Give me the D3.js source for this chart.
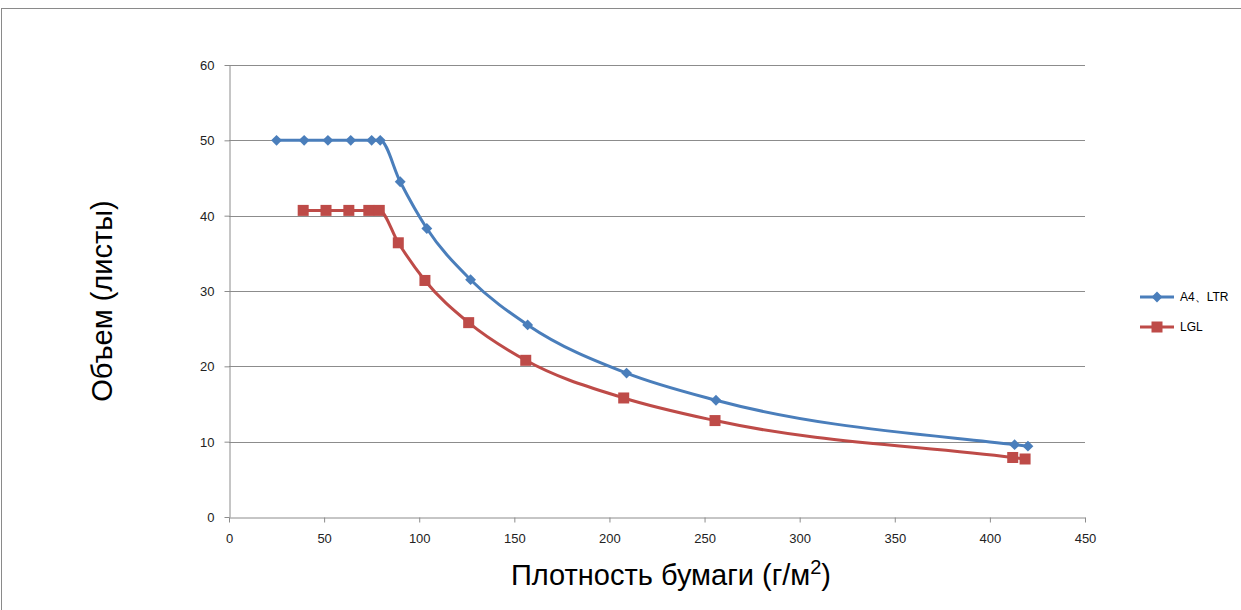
<!doctype html>
<html lang="ru">
<head>
  <meta charset="utf-8">
  <title>Объем листов</title>
  <style>
    body { margin: 0; background: #fff; }
    svg { display: block; font-family: "Liberation Sans", Arial, sans-serif; }
    .grid line { stroke: #8c8c8c; stroke-width: 1; }
    .axis path, .axis line { stroke: #8c8c8c; }
    .axis text { font-size: 13px; fill: #222; }
  </style>
</head>
<body>
  <div id="chart"></div>
  <script src="https://cdn.jsdelivr.net/npm/d3@7"></script>
  <script>
// readings
var a4X = [25, 39.5, 52, 64, 75, 79.5, 90, 104, 127, 157, 209, 256, 413, 420];
var a4Y = [50, 50, 50, 50, 50, 50, 44.5, 38.3, 31.5, 25.5, 19.1, 15.5, 9.6, 9.4];
var lglX = [39, 51, 63, 73.5, 79, 89, 103, 126, 156, 207.5, 255.5, 412, 418.5];
var lglY = [40.7, 40.7, 40.7, 40.7, 40.7, 36.4, 31.4, 25.8, 20.8, 15.8, 12.8, 7.9, 7.7];
var xTicks = [0, 50, 100, 150, 200, 250, 300, 350, 400, 450];
var yTicks = [0, 10, 20, 30, 40, 50, 60];
var seriesNames = ["A4、LTR", "LGL"];

(function() {
  var width = 1241, height = 610;
  var left = 229, right = 1085, top = 65, bottom = 517;

  var svg = d3.select("#chart").append("svg")
      .attr("width", width)
      .attr("height", height);

  // outer chart frame (runs off the right/bottom edge)
  svg.append("rect")
      .attr("x", 1.5).attr("y", 8.5)
      .attr("width", 1400).attr("height", 800)
      .attr("fill", "none")
      .attr("stroke", "#8a8a8a");

  var x = d3.scaleLinear().domain([0, 450]).range([left, right]);
  var y = d3.scaleLinear().domain([0, 60]).range([bottom, top]);

  // horizontal gridlines
  svg.append("g").attr("class", "grid")
    .selectAll("line").data(yTicks.filter(function(d) { return d > 0; }))
    .enter().append("line")
      .attr("x1", left).attr("x2", right)
      .attr("y1", function(d) { return Math.round(y(d)) + 0.5; })
      .attr("y2", function(d) { return Math.round(y(d)) + 0.5; });

  var yAxis = svg.append("g").attr("class", "axis")
      .attr("transform", "translate(" + (left + 0.5) + ",0)")
      .call(d3.axisLeft(y).tickValues(yTicks).tickSize(5).tickSizeOuter(0).tickPadding(10));
  yAxis.selectAll("text").attr("dy", "0.35em");

  var xAxis = svg.append("g").attr("class", "axis")
      .attr("transform", "translate(0," + (bottom + 0.5) + ")")
      .call(d3.axisBottom(x).tickValues(xTicks).tickSize(5).tickSizeOuter(0).tickPadding(11));

  // axis titles
  svg.append("text")
      .attr("transform", "translate(112,301) rotate(-90)")
      .attr("text-anchor", "middle")
      .style("font-size", "29px")
      .text("Объем (листы)");

  var xt = svg.append("text")
      .attr("x", 671).attr("y", 585)
      .attr("text-anchor", "middle")
      .style("font-size", "29px");
  xt.append("tspan").text("Плотность бумаги (г/м");
  xt.append("tspan").attr("dy", -11).style("font-size", "20px").text("2");
  xt.append("tspan").attr("dy", 11).text(")");

  var blue = "#4a7ebb", red = "#be4b48";
  var line = d3.line()
      .x(function(d) { return x(d[0]); })
      .y(function(d) { return y(d[1]); })
      .curve(d3.curveMonotoneX);

  var a4 = d3.zip(a4X, a4Y);
  var lgl = d3.zip(lglX, lglY);

  var diamond = d3.symbol().type(d3.symbolDiamond2).size(75);

  svg.append("path").datum(lgl)
      .attr("d", line).attr("fill", "none")
      .attr("stroke", red).attr("stroke-width", 3);
  svg.append("g").selectAll("rect").data(lgl)
    .enter().append("rect")
      .attr("x", function(d) { return x(d[0]) - 5.5; })
      .attr("y", function(d) { return y(d[1]) - 5.5; })
      .attr("width", 11).attr("height", 11)
      .attr("fill", red);

  svg.append("path").datum(a4)
      .attr("d", line).attr("fill", "none")
      .attr("stroke", blue).attr("stroke-width", 3);
  svg.append("g").selectAll("path").data(a4)
    .enter().append("path")
      .attr("d", diamond)
      .attr("transform", function(d) { return "translate(" + x(d[0]) + "," + y(d[1]) + ")"; })
      .attr("fill", blue);

  // legend
  var legend = svg.append("g").attr("transform", "translate(1140,297)");
  legend.append("line").attr("x1", 0).attr("x2", 34).attr("y1", 0).attr("y2", 0)
      .attr("stroke", blue).attr("stroke-width", 3);
  legend.append("path").attr("d", diamond).attr("transform", "translate(17,0)").attr("fill", blue);
  legend.append("text").attr("x", 40).attr("y", 0).attr("dy", "0.35em")
      .style("font-size", "12px").text(seriesNames[0]);

  legend.append("line").attr("x1", 0).attr("x2", 34).attr("y1", 30).attr("y2", 30)
      .attr("stroke", red).attr("stroke-width", 3);
  legend.append("rect").attr("x", 11.5).attr("y", 24.5).attr("width", 11).attr("height", 11).attr("fill", red);
  legend.append("text").attr("x", 40).attr("y", 30).attr("dy", "0.35em")
      .style("font-size", "12px").text(seriesNames[1]);
})();
  </script>
</body>
</html>
